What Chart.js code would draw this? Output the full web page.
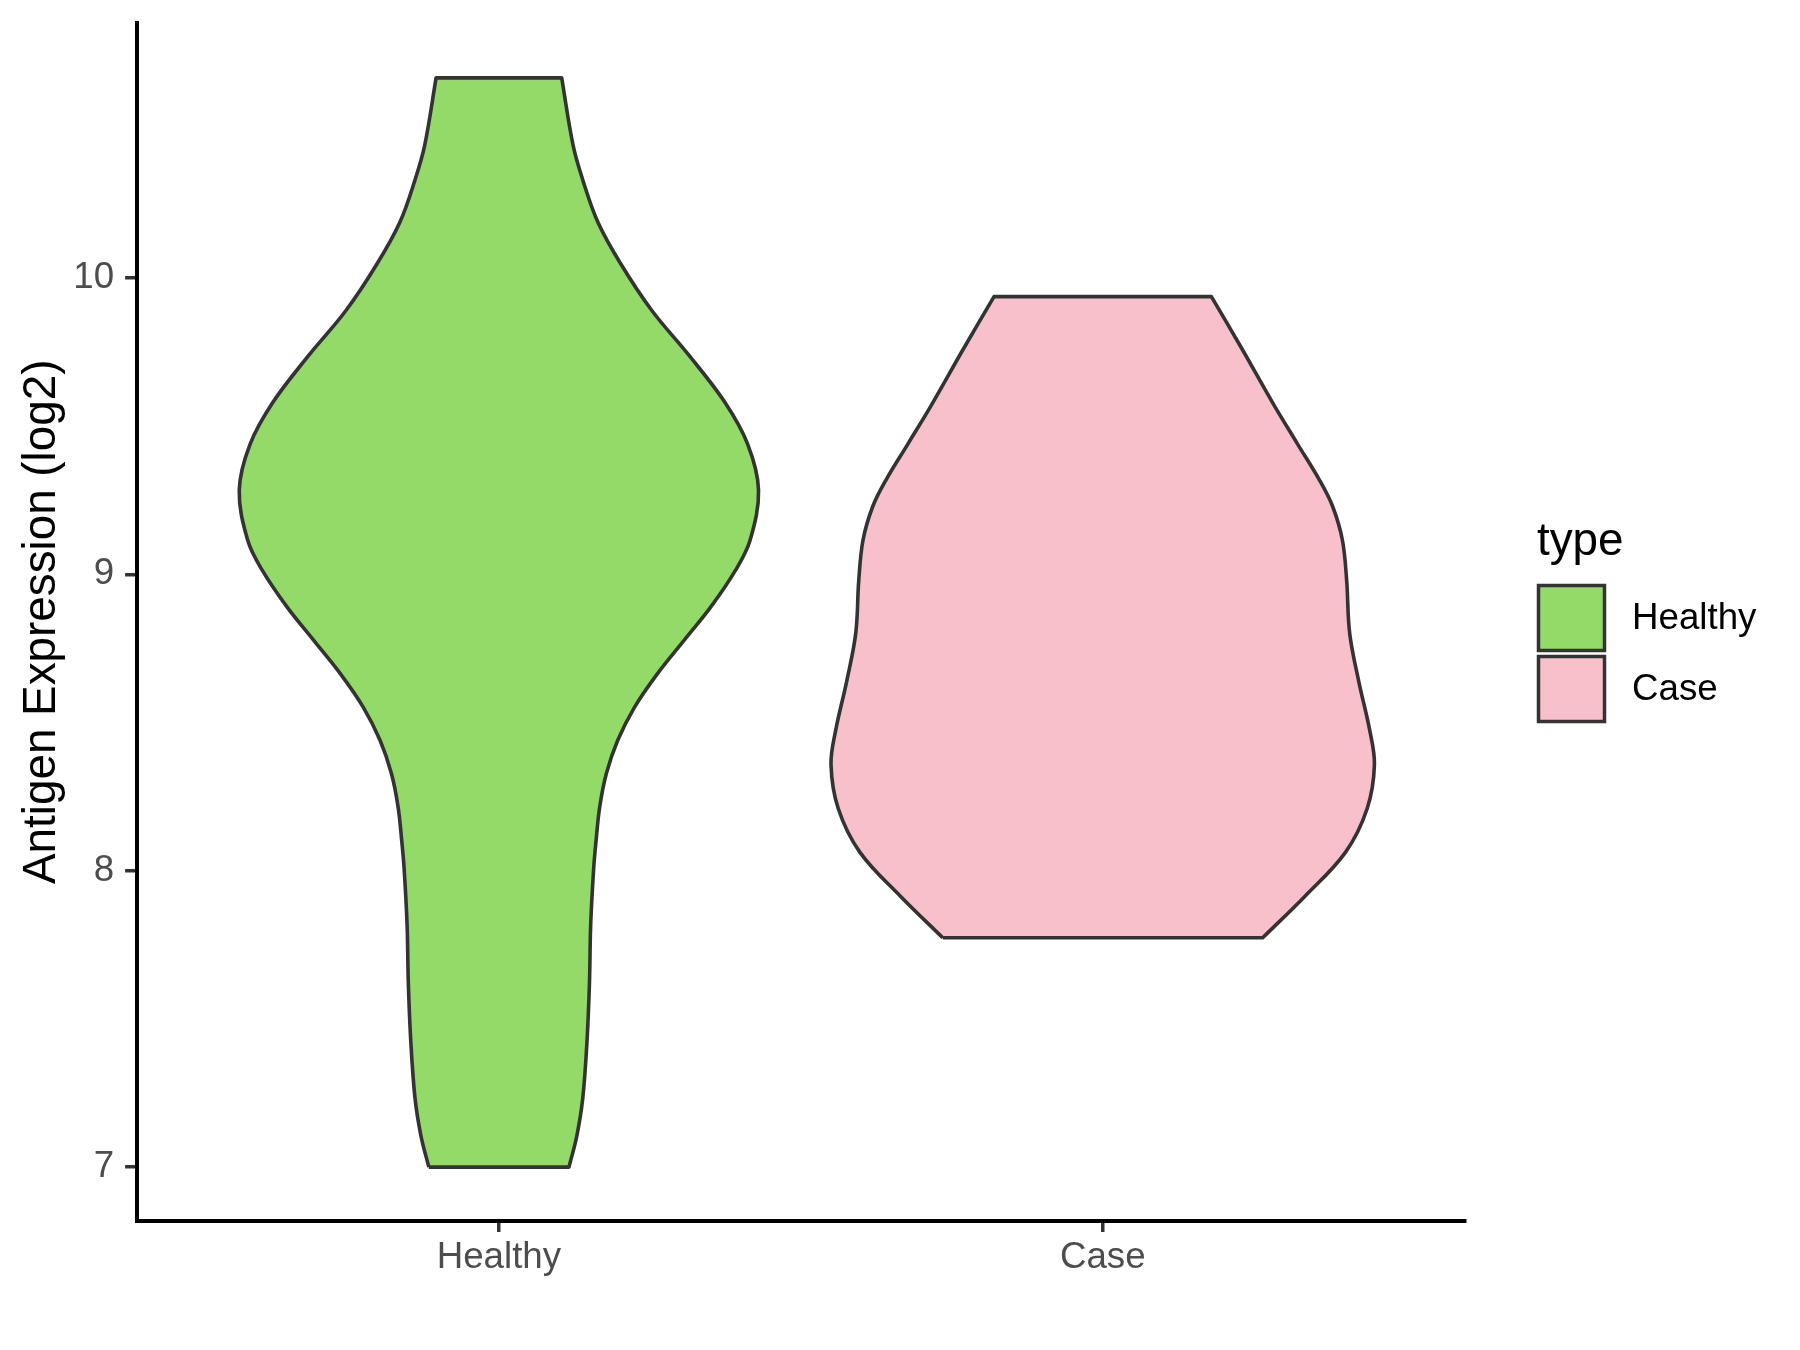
<!DOCTYPE html>
<html>
<head>
<meta charset="utf-8">
<script src="https://cdn.jsdelivr.net/npm/chart.js@4.4.1/dist/chart.umd.min.js"></script>
<style>
  html, body { margin: 0; padding: 0; background: #ffffff; }
  #wrap { width: 1800px; height: 1350px; position: relative; }
</style>
</head>
<body>
<div id="wrap"><canvas id="violinChart" width="1800" height="1350"></canvas></div>
<script>
// Categories and tick labels
const categories = ['Healthy', 'Case'];
const yTicks = [7, 8, 9, 10];

// Violin outlines: expression level (bottom -> top) and half-width in category units
const healthyLevels = [7.0, 7.105, 7.234, 7.428, 7.622, 7.816, 8.009, 8.103, 8.216, 8.328, 8.441, 8.553, 8.666,
                       8.778, 8.89, 9.014, 9.115, 9.284, 9.439, 9.581, 9.736, 9.891, 10.047, 10.188, 10.33, 10.446, 10.675];
const healthyHalfWidth = [0.116, 0.129, 0.139, 0.146, 0.15, 0.152, 0.157, 0.161, 0.167, 0.178, 0.197, 0.225, 0.263,
                          0.307, 0.351, 0.392, 0.416, 0.43, 0.412, 0.374, 0.316, 0.253, 0.202, 0.164, 0.139, 0.123, 0.104];

const caseLevels = [7.774, 7.914, 8.062, 8.21, 8.358, 8.476, 8.639, 8.801, 8.98, 9.115, 9.228, 9.318,
                    9.442, 9.577, 9.756, 9.937];
const caseHalfWidth = [0.265, 0.335, 0.402, 0.438, 0.45, 0.442, 0.424, 0.409, 0.404, 0.397, 0.381, 0.359,
                       0.322, 0.282, 0.232, 0.18];

const fillColors = ['#93DA69', '#F7C0CB'];
const outlineColor = '#333333';

Chart.defaults.font.family = '"Liberation Sans", Arial, sans-serif';

// closed outline: up the left side, across the top, down the right side, back across the bottom
// corner points are repeated so the spline keeps the flat ends straight
function violinOutline(center, levels, halfWidth) {
    const n = levels.length;
    const left = levels.map((y, i) => ({ x: center - halfWidth[i], y }));
    const right = levels.map((y, i) => ({ x: center + halfWidth[i], y })).reverse();
    return [...left, left[n - 1], right[0], ...right, right[n - 1], left[0]];
}

const outlines = [
    violinOutline(1, healthyLevels, healthyHalfWidth),
    violinOutline(2, caseLevels, caseHalfWidth)
];

const legendPlugin = {
    id: 'ggLegend',
    afterDraw(chart) {
        const ctx = chart.ctx;
        const font = '"Liberation Sans", Arial, sans-serif';
        ctx.save();
        ctx.fillStyle = '#000000';
        ctx.font = `45.8px ${font}`;
        ctx.textAlign = 'left';
        ctx.textBaseline = 'alphabetic';
        ctx.fillText('type', 1537, 555);

        chart.data.datasets.forEach((ds, i) => {
            const top = 584 + i * 71;
            ctx.fillStyle = ds.backgroundColor;
            ctx.fillRect(1538.5, top + 1.5, 66, 65);
            ctx.strokeStyle = ds.borderColor;
            ctx.lineWidth = 3.5;
            ctx.strokeRect(1538.5, top + 1.5, 66, 65);
            ctx.fillStyle = '#000000';
            ctx.font = `36.7px ${font}`;
            ctx.textBaseline = 'middle';
            ctx.fillText(ds.label, 1632, top + 34.5);
        });
        ctx.restore();
    }
};

new Chart(document.getElementById('violinChart'), {
    type: 'line',
    data: {
        datasets: categories.map((cat, i) => ({
            label: cat,
            data: outlines[i],
            backgroundColor: fillColors[i],
            borderColor: outlineColor,
            borderWidth: 3.6,
            borderJoinStyle: 'round',
            fill: 'shape',
            tension: 0.36,
            pointRadius: 0,
            pointHoverRadius: 0
        }))
    },
    options: {
        responsive: false,
        animation: false,
        devicePixelRatio: 1,
        layout: { padding: { left: 0, top: 23, right: 335, bottom: 0 } },
        plugins: {
            legend: { display: false },
            tooltip: { enabled: false }
        },
        scales: {
            x: {
                type: 'linear',
                min: 0.4,
                max: 2.6,
                afterBuildTicks: (scale) => { scale.ticks = categories.map((c, i) => ({ value: i + 1 })); },
                afterFit: (scale) => {
                    scale.height = 129.5;
                    scale.paddingLeft = 0;
                    scale.paddingRight = 0;
                },
                border: { display: true, color: '#000000', width: 4 },
                grid: { drawOnChartArea: false, drawTicks: true, tickLength: 11.5, color: '#333333', lineWidth: 3.5 },
                ticks: {
                    color: '#4D4D4D',
                    font: { size: 36.7 },
                    padding: 4,
                    maxRotation: 0,
                    callback: (value) => categories[Math.round(value) - 1]
                }
            },
            y: {
                type: 'linear',
                min: 6.82,
                max: 10.86,
                afterBuildTicks: (scale) => { scale.ticks = yTicks.map(v => ({ value: v })); },
                afterFit: (scale) => {
                    scale.width = 136.6;
                    scale.paddingTop = 0;
                    scale.paddingBottom = 0;
                },
                border: { display: true, color: '#000000', width: 4 },
                grid: { drawOnChartArea: false, drawTicks: true, tickLength: 11.5, color: '#333333', lineWidth: 3.5 },
                ticks: {
                    color: '#4D4D4D',
                    font: { size: 36.7 },
                    padding: 11,
                    callback: (value) => String(value)
                },
                title: {
                    display: true,
                    text: 'Antigen Expression (log2)',
                    color: '#000000',
                    font: { size: 45.8 },
                    padding: { top: 14.5, bottom: 0 }
                }
            }
        }
    },
    plugins: [legendPlugin]
});
</script>
</body>
</html>
